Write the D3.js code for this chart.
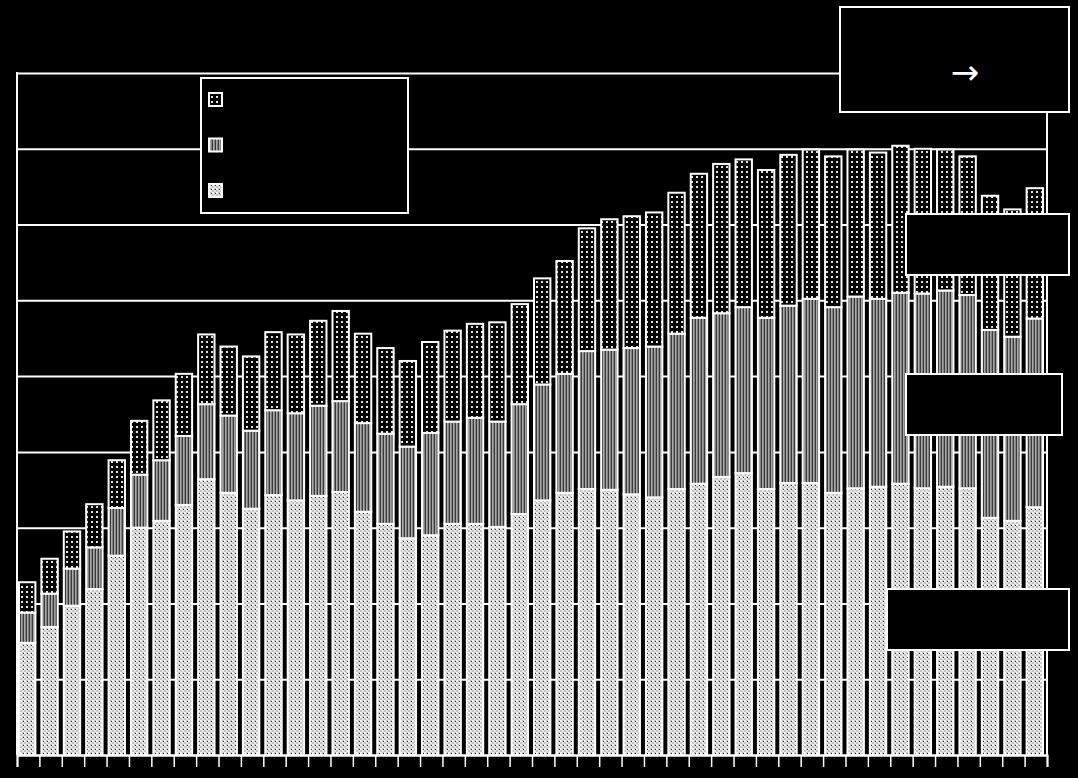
<!DOCTYPE html>
<html>
<head>
<meta charset="utf-8">
<script src="https://cdn.jsdelivr.net/npm/d3@7"></script>
<style>
	html, body { margin:0; padding:0; background:#000; }
	svg { display:block; }
</style>
</head>
<body>
<div id="chart"></div>
<script>

const years = d3.range(1975, 2021)

const baseSeries = [14.8, 16.9, 19.7, 21.9, 26.3, 30.0, 30.9, 33.0, 36.4, 34.6,
	32.5, 34.3, 33.6, 34.2, 34.7, 32.1, 30.5, 28.6, 29.0, 30.5,
	30.5, 30.1, 31.8, 33.6, 34.6, 35.1, 35.0, 34.4, 34.0, 35.1,
	35.8, 36.7, 37.2, 35.1, 35.9, 35.9, 34.6, 35.2, 35.4, 35.8,
	35.2, 35.4, 35.2, 31.3, 30.9, 32.7]

const midSeries = [4.0, 4.4, 4.9, 5.5, 6.3, 7.0, 8.0, 9.1, 9.9, 10.2,
	10.3, 11.2, 11.5, 11.9, 12.0, 11.7, 11.9, 12.1, 13.5, 13.5,
	14.0, 13.9, 14.5, 15.3, 15.7, 18.2, 18.5, 19.3, 19.9, 20.5,
	21.9, 21.6, 21.9, 22.6, 23.4, 24.3, 24.5, 25.3, 24.8, 25.2,
	25.7, 25.9, 25.5, 24.8, 24.3, 24.9]

const topSeries = [4.0, 4.6, 4.9, 5.7, 6.3, 7.1, 7.9, 8.2, 9.2, 9.1,
	9.8, 10.3, 10.4, 11.2, 11.9, 11.8, 11.3, 11.3, 12.0, 12.0,
	12.4, 13.1, 13.2, 14.0, 14.9, 16.2, 17.2, 17.4, 17.7, 18.6,
	19.0, 19.7, 19.5, 19.5, 19.9, 19.7, 19.9, 19.4, 19.3, 19.4,
	19.1, 18.6, 18.3, 17.7, 16.8, 17.2]

const seriesKeys = ["base", "mid", "top"]
const yTicks = [0, 10, 20, 30, 40, 50, 60, 70, 80, 90]

const width = 1078
const height = 778
const plotLeft = 17, plotRight = 1047, plotTop = 73, plotBottom = 755

const rows = years.map(function(yr, i) {
	return { year: yr, base: baseSeries[i], mid: midSeries[i], top: topSeries[i] }
})

var svg = d3.select("#chart").append("svg")
	.attr("width", width)
	.attr("height", height)

svg.append("rect").attr("width", width).attr("height", height).attr("fill", "#000")

// fill patterns for the three stacks
const defs = svg.append("defs")

const pBase = defs.append("pattern").attr("id", "p-base")
	.attr("patternUnits", "userSpaceOnUse").attr("width", 4).attr("height", 4)
pBase.append("rect").attr("width", 4).attr("height", 4).attr("fill", "#c4c4c4")
pBase.append("rect").attr("x", 0).attr("y", 0).attr("width", 2).attr("height", 2).attr("fill", "#f2f2f2")
pBase.append("rect").attr("x", 2).attr("y", 2).attr("width", 2).attr("height", 2).attr("fill", "#e6e6e6")
pBase.append("rect").attr("x", 3).attr("y", 1).attr("width", 1).attr("height", 1).attr("fill", "#333")

const pMid = defs.append("pattern").attr("id", "p-mid")
	.attr("patternUnits", "userSpaceOnUse").attr("width", 3).attr("height", 3)
pMid.append("rect").attr("width", 3).attr("height", 3).attr("fill", "#3a3a3a")
pMid.append("rect").attr("x", 0).attr("width", 1).attr("height", 3).attr("fill", "#a8a8a8")
pMid.append("rect").attr("x", 1).attr("width", 1).attr("height", 3).attr("fill", "#808080")

const pTop = defs.append("pattern").attr("id", "p-top")
	.attr("patternUnits", "userSpaceOnUse").attr("width", 5).attr("height", 5)
pTop.append("rect").attr("width", 5).attr("height", 5).attr("fill", "#000")
pTop.append("rect").attr("x", 1).attr("y", 1).attr("width", 2).attr("height", 2).attr("fill", "#e0e0e0")

const fills = { base: "url(#p-base)", mid: "url(#p-mid)", top: "url(#p-top)" }

const x = d3.scaleBand().domain(years).range([plotLeft, plotRight]).padding(0)
const xEdge = d3.scaleLinear().domain([0, years.length]).range([plotLeft, plotRight])
const y = d3.scaleLinear().domain([0, 90]).range([plotBottom, plotTop])

// grid
svg.append("g")
	.attr("transform", "translate(" + plotLeft + ",0)")
	.call(d3.axisLeft(y).tickValues(yTicks).tickSize(-(plotRight - plotLeft)).tickFormat(""))
	.call(function(g) { g.select(".domain").remove() })
	.selectAll("line")
		.attr("stroke", "#fff")
		.attr("stroke-width", 2)

svg.append("line").attr("x1", plotLeft).attr("x2", plotLeft).attr("y1", plotTop - 1).attr("y2", plotBottom)
	.attr("stroke", "#fff").attr("stroke-width", 2)
svg.append("line").attr("x1", plotRight).attr("x2", plotRight).attr("y1", plotTop - 1).attr("y2", plotBottom)
	.attr("stroke", "#fff").attr("stroke-width", 2)

// bottom axis, ticks at year boundaries
svg.append("g")
	.attr("transform", "translate(0," + plotBottom + ")")
	.call(d3.axisBottom(xEdge).tickValues(d3.range(years.length + 1)).tickSize(12).tickFormat(""))
	.call(function(g) {
		g.select(".domain").attr("stroke", "#fff").attr("stroke-width", 2)
		g.selectAll("line").attr("stroke", "#fff").attr("stroke-width", 1.5)
	})

// stacked bars
const stacked = d3.stack().keys(seriesKeys)(rows)

svg.append("g")
	.selectAll("g.layer")
	.data(stacked)
	.enter()
		.append("g")
			.attr("class", "layer")
			.attr("fill", function(d) { return fills[d.key] })
		.selectAll("rect")
		.data(function(d) { return d })
		.enter()
			.append("rect")
				.attr("x", function(d) { return x(d.data.year) + 2 })
				.attr("width", x.bandwidth() - 6)
				.attr("y", function(d) { return y(d[1]) })
				.attr("height", function(d) { return y(d[0]) - y(d[1]) })
				.attr("stroke", "#fff")
				.attr("stroke-width", 2)

// legend
const legend = svg.append("g")
legend.append("rect")
	.attr("x", 201).attr("y", 78).attr("width", 207).attr("height", 135)
	.attr("fill", "#000").attr("stroke", "#fff").attr("stroke-width", 2)

legend.selectAll("rect.swatch")
	.data(["top", "mid", "base"])
	.enter()
		.append("rect")
			.attr("class", "swatch")
			.attr("x", 209)
			.attr("y", function(d, i) { return 93 + i * 45.5 })
			.attr("width", 13)
			.attr("height", 13)
			.attr("fill", function(d) { return fills[d] })
			.attr("stroke", "#fff")
			.attr("stroke-width", 2)

// note boxes
const boxes = [
	{ x: 840, y: 7, w: 229, h: 105 },
	{ x: 906, y: 214, w: 163, h: 61 },
	{ x: 906, y: 374, w: 156, h: 61 },
	{ x: 887, y: 589, w: 182, h: 61 }
]

svg.append("g")
	.selectAll("rect")
	.data(boxes)
	.enter()
		.append("rect")
			.attr("x", function(d) { return d.x })
			.attr("y", function(d) { return d.y })
			.attr("width", function(d) { return d.w })
			.attr("height", function(d) { return d.h })
			.attr("fill", "#000")
			.attr("stroke", "#fff")
			.attr("stroke-width", 2)

svg.append("text")
	.attr("x", 965)
	.attr("y", 84)
	.attr("text-anchor", "middle")
	.attr("fill", "#fff")
	.attr("font-family", "DejaVu Sans, sans-serif")
	.attr("font-size", 34)
	.text("→")

</script>
</body>
</html>
